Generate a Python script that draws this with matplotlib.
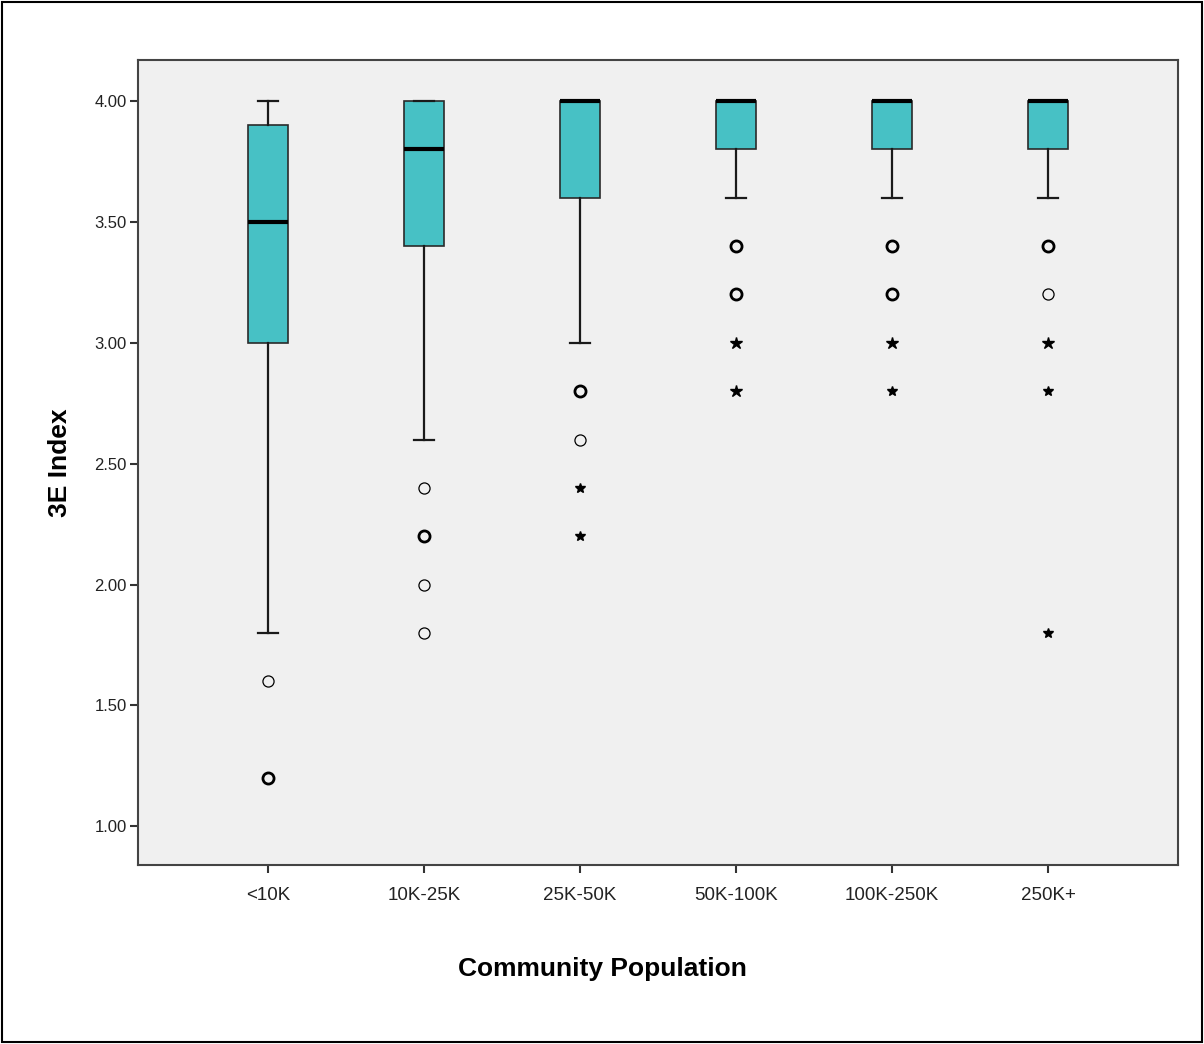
import matplotlib
matplotlib.use('Agg')
import matplotlib.pyplot as plt
from matplotlib.patches import Rectangle

plt.rcParams['font.family'] = ['Liberation Sans', 'DejaVu Sans']

# data
groups = ['<10K', '10K-25K', '25K-50K', '50K-100K', '100K-250K', '250K+']
whislo = [1.8, 2.6, 3.0, 3.6, 3.6, 3.6]
q1 = [3.0, 3.4, 3.6, 3.8, 3.8, 3.8]
med = [3.5, 3.8, 4.0, 4.0, 4.0, 4.0]
q3 = [3.9, 4.0, 4.0, 4.0, 4.0, 4.0]
whishi = [4.0, 4.0, 4.0, 4.0, 4.0, 4.0]

# outliers (circles) and extremes (stars), with case counts
outliers = [[1.6, 1.2], [2.4, 2.2, 2.0, 1.8], [2.8, 2.6],
            [3.4, 3.2], [3.4, 3.2], [3.4, 3.2]]
outlier_n = [[1, 2], [1, 2, 1, 1], [2, 1], [2, 2], [2, 2], [2, 1]]
extremes = [[], [], [2.4, 2.2], [3.0, 2.8], [3.0, 2.8], [3.0, 2.8, 1.8]]
extreme_n = [[], [], [1, 1], [2, 2], [2, 1], [2, 1, 1]]

stats = []
for i in range(len(groups)):
    stats.append({'whislo': whislo[i], 'q1': q1[i], 'med': med[i],
                  'q3': q3[i], 'whishi': whishi[i], 'fliers': [],
                  'label': groups[i]})

fig = plt.figure(figsize=(12.04, 10.44), dpi=100)
ax = fig.add_axes([0.1146, 0.1715, 0.8638, 0.771])
ax.set_facecolor('#F0F0F0')

pos = list(range(len(groups)))
ax.bxp(stats, positions=pos, widths=0.256, capwidths=0.13, patch_artist=True,
       showfliers=False,
       boxprops=dict(facecolor='#47C1C5', edgecolor='#2a2a2a', linewidth=1.2),
       medianprops=dict(color='black', linewidth=3),
       whiskerprops=dict(color='#1a1a1a', linewidth=1.6),
       capprops=dict(color='#1a1a1a', linewidth=1.6))

for i in pos:
    for v, n in zip(outliers[i], outlier_n[i]):
        ax.plot(i, v, marker='o', markersize=8, markerfacecolor='none',
                markeredgecolor='black', markeredgewidth=2.0 if n > 1 else 0.9,
                linestyle='none')
    for v, n in zip(extremes[i], extreme_n[i]):
        ax.plot(i, v, marker='*', markersize=9 if n > 1 else 7.5,
                color='black', linestyle='none')

ax.set_xlim(-0.833, 5.833)
ax.set_ylim(0.84, 4.17)
ax.set_xticks(pos)
ax.set_xticklabels(groups)
ax.set_yticks([1.0, 1.5, 2.0, 2.5, 3.0, 3.5, 4.0])
ax.set_yticklabels(['%.2f' % t for t in ax.get_yticks()])
ax.tick_params(axis='both', direction='out', length=6, width=1.5,
               color='#333333', labelcolor='#222222')
ax.tick_params(axis='x', labelsize=13.5, pad=10)
ax.tick_params(axis='y', labelsize=12, pad=2)
for s in ax.spines.values():
    s.set_color('#444444')
    s.set_linewidth(1.5)

fig.text(0.5, 0.0718, 'Community Population', fontsize=19, fontweight='bold',
         ha='center', va='center')
ax.set_ylabel('3E Index', fontsize=19, fontweight='bold', labelpad=16)

# frame around the whole picture
fig.patches.append(Rectangle((0.002, 0.002), 0.996, 0.996, transform=fig.transFigure,
                             fill=False, edgecolor='black', linewidth=1.5))

fig.savefig('out.png', dpi=100, facecolor='white')
